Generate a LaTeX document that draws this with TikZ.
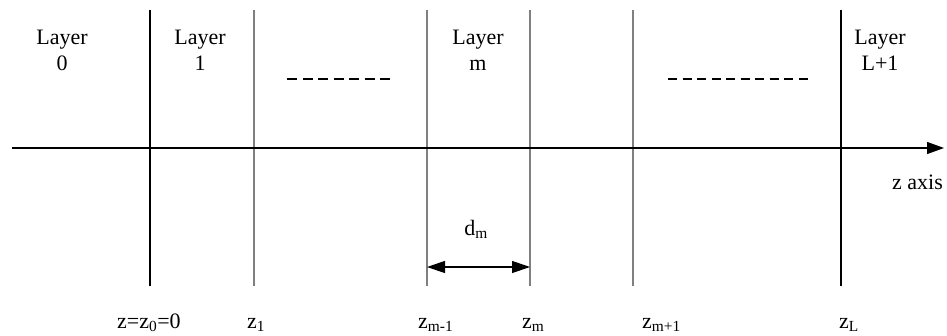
\documentclass[tikz,border=0pt]{standalone}
\usepackage{fontspec}
\setmainfont{Liberation Serif}
\usetikzlibrary{arrows.meta}
\begin{document}
\begin{tikzpicture}[x=1pt,y=-1pt,
  txt/.style={inner sep=0pt,font=\fontsize{22}{26}\selectfont},
  layer/.style={txt,align=center,anchor=north},
  zlab/.style={txt,anchor=base west},
  bdark/.style={draw=black,line width=1.3pt},
  blight/.style={draw=black!50,line width=1.3pt},
  dots/.style={draw=black,line width=1.2pt}]
\useasboundingbox (0,0) rectangle (947,335);
% boundary coordinates
\foreach \n/\x in {a/150,b/254,c/427,d/530,e/633,f/841}{
  \coordinate (\n t) at (\x,10);
  \coordinate (\n b) at (\x,286);
}
\draw[bdark] (at) -- (ab);
\draw[blight] (bt) -- (bb);
\draw[blight] (ct) -- (cb);
\draw[blight] (dt) -- (db);
\draw[blight] (et) -- (eb);
\draw[bdark] (ft) -- (fb);
% axis
\coordinate (ax0) at (12,148);
\coordinate (ax1) at (944,148);
\draw[line width=1.3pt,-{Triangle[length=17pt,width=12pt]}] (ax0) -- (ax1);
% dashes
\coordinate (d1s) at (287,79); \coordinate (d1e) at (394,79);
\coordinate (d2s) at (668,79); \coordinate (d2e) at (808,79);
\draw[dots,dash pattern=on 10pt off 5.5pt] (d1s) -- (d1e);
\draw[dots,dash pattern=on 9pt off 5.5pt] (d2s) -- (d2e);
% dm arrow
\coordinate (dl) at (427,267); \coordinate (dr) at (530,267);
\draw[line width=1.2pt,{Triangle[length=18pt,width=12pt]}-{Triangle[length=18pt,width=12pt]}] (dl) -- (dr);
% layer labels
\node[layer] (L0) at (62,30) {Layer\\0};
\node[layer] (L1) at (200,30) {Layer\\1};
\node[layer] (Lm) at (478,30) {Layer\\m};
\node[layer] (LL) at (880,30) {Layer\\L+1};
% other labels
\node[txt,anchor=base] (dm) at (476,235) {d\textsubscript{m}};
\node[txt,anchor=base west] (zax) at (892,189) {z axis};
\node[zlab] (z0) at (117,328) {z=z\textsubscript{0}=0};
\node[zlab] (z1) at (247,328) {z\textsubscript{1}};
\node[zlab] (zm1) at (418,328) {z\textsubscript{m-1}};
\node[zlab] (zm) at (522,328) {z\textsubscript{m}};
\node[zlab] (zmp) at (642,328) {z\textsubscript{m+1}};
\node[zlab] (zL) at (839,328) {z\textsubscript{L}};
\end{tikzpicture}
\end{document}
